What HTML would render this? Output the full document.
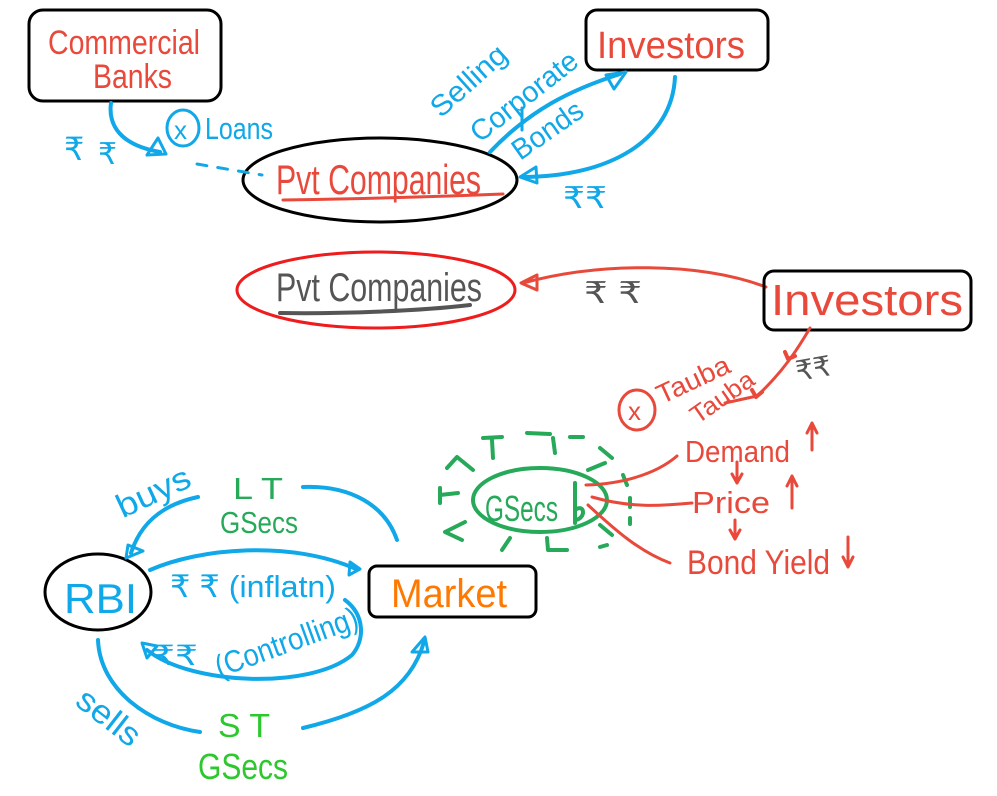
<!DOCTYPE html>
<html><head><meta charset="utf-8"><style>
html,body{margin:0;padding:0;background:#fff;}
svg{display:block;}
text{font-family:"Liberation Sans","DejaVu Sans",sans-serif;}
</style></head><body>
<svg width="997" height="796" viewBox="0 0 997 796" xmlns="http://www.w3.org/2000/svg">
<rect width="997" height="796" fill="#fff"/>
<g fill="none" stroke-linecap="round" stroke-linejoin="round">
<!-- Commercial Banks box -->
<rect x="29" y="10" width="192" height="91" rx="14" stroke="#000" stroke-width="3"/>
<!-- Investors top box -->
<rect x="586" y="10" width="182" height="60" rx="11" stroke="#000" stroke-width="3"/>
<!-- Pvt Companies ellipse -->
<ellipse cx="380" cy="180" rx="137" ry="42" stroke="#000" stroke-width="3"/>
<path d="M283,200 C350,199 430,197 503,194" stroke="#e8493b" stroke-width="3"/>
<!-- CB arrow -->
<path d="M111,103 C108,125 120,145 160,152" stroke="#10a8e8" stroke-width="4"/>
<polygon points="147,155 158,138 166,154" stroke="#10a8e8" stroke-width="3"/>
<ellipse cx="183" cy="128" rx="16" ry="18" stroke="#10a8e8" stroke-width="3"/>
<path d="M197,164 L262,175" stroke="#10a8e8" stroke-width="3" stroke-dasharray="10 11"/>
<!-- Selling arrow -->
<path d="M490,152 C530,110 570,90 620,74" stroke="#10a8e8" stroke-width="4"/>
<polygon points="606,75 626,72 614,89" stroke="#10a8e8" stroke-width="3"/>
<path d="M522,130 L522,108" stroke="#10a8e8" stroke-width="3"/>
<!-- return arrow -->
<path d="M675,77 C672,140 610,177 522,177" stroke="#10a8e8" stroke-width="4"/>
<polygon points="520,177 536,167 537,183" stroke="#10a8e8" stroke-width="3"/>

<!-- second section -->
<ellipse cx="376" cy="290" rx="139" ry="38" stroke="#ee1c1c" stroke-width="3"/>
<path d="M280,313 C340,314 420,311 470,305" stroke="#555" stroke-width="4"/>
<path d="M766,287 C700,262 600,262 523,283" stroke="#e8493b" stroke-width="3"/>
<path d="M537,275 L521,283 L537,290 M537,275 L537,290" stroke="#e8493b" stroke-width="3"/>
<rect x="764" y="271" width="207" height="59" rx="10" stroke="#000" stroke-width="3"/>
<!-- Tauba arrow -->
<path d="M810,328 C800,345 785,370 757,396 L725,403" stroke="#e8493b" stroke-width="3"/>
<path d="M785,352 L788,359 L795,356" stroke="#e8493b" stroke-width="4"/>
<path d="M752,390 L756,397 L762,392" stroke="#e8493b" stroke-width="4"/>
<ellipse cx="637" cy="410" rx="18" ry="20" stroke="#e8493b" stroke-width="3"/>

<!-- GSecs -->
<ellipse cx="540" cy="500" rx="67" ry="32" stroke="#27a95a" stroke-width="4"/>
<path d="M575,483 L575,523 M575,510 C585,503 586,518 576,520" stroke="#27a95a" stroke-width="4"/>
<g stroke="#27a95a" stroke-width="4">
<path d="M483,438 L502,437 M492,440 L493,458"/>
<path d="M527,433 L550,434"/>
<path d="M553,438 L555,453"/>
<path d="M570,437 L583,437"/>
<path d="M600,448 L612,458"/>
<path d="M588,470 L605,463"/>
<path d="M447,468 L457,457 L473,470"/>
<path d="M440,488 L440,503 M440,495 L458,493"/>
<path d="M465,522 L445,532 L462,540"/>
<path d="M510,538 L502,550"/>
<path d="M547,538 L548,550 L567,550"/>
<path d="M600,525 L612,535"/>
<path d="M600,547 L607,545"/>
<path d="M623,475 L627,485"/>
<path d="M630,498 L630,507"/>
<path d="M630,518 L630,524"/>
</g>
<g stroke="#e8493b" stroke-width="3">
<path d="M586,485 C620,484 655,475 677,456"/>
<path d="M592,497 C630,508 660,506 692,503"/>
<path d="M588,505 C615,530 640,552 670,563"/>
<path d="M812,450 L812,423 M807,433 L812,423 L817,433"/>
<path d="M792,508 L792,476 M787,486 L792,476 L797,486"/>
<path d="M848,537 L848,567 M843,557 L848,567 L853,557"/>
<path d="M737,462 L737,483 M732,474 L737,483 L742,474"/>
<path d="M735,520 L735,539 M730,530 L735,539 L740,530"/>
</g>

<!-- RBI section -->
<ellipse cx="98" cy="592" rx="53" ry="38" stroke="#000" stroke-width="3"/>
<rect x="369" y="566" width="167" height="51" rx="8" stroke="#000" stroke-width="3"/>
<g stroke="#10a8e8" stroke-width="4">
<path d="M303,487 C350,485 385,505 397,540"/>
<path d="M198,497 C160,505 140,525 131,553"/>
<path d="M150,570 C200,548 290,540 356,569"/>
<path d="M345,600 C365,615 365,640 352,655 C310,690 190,685 147,650"/>
<path d="M98,640 C100,690 150,725 200,732"/>
<path d="M303,728 C370,712 410,690 424,642"/>
</g>
<g stroke="#10a8e8" stroke-width="3">
<polygon points="126,558 128,545 143,551"/>
<polygon points="350,562 360,569 349,575"/>
<polygon points="142,643 147,658 157,646"/>
<polygon points="412,652 425,637 428,652"/>
</g>
</g>

<!-- Texts -->
<g fill="#e8493b">
<text x="48" y="54" font-size="34" textLength="152" lengthAdjust="spacingAndGlyphs">Commercial</text>
<text x="93" y="88" font-size="34" textLength="79" lengthAdjust="spacingAndGlyphs">Banks</text>
<text x="597" y="58" font-size="38" textLength="148" lengthAdjust="spacingAndGlyphs">Investors</text>
<text x="276" y="194" font-size="42" textLength="205" lengthAdjust="spacingAndGlyphs">Pvt Companies</text>
<text x="771" y="315" font-size="44" textLength="192" lengthAdjust="spacingAndGlyphs">Investors</text>
<text x="628" y="420" font-size="26">x</text>
<text transform="translate(697,388) rotate(-25)" text-anchor="middle" font-size="27" textLength="78" lengthAdjust="spacingAndGlyphs">Tauba</text>
<text transform="translate(727,404) rotate(-35)" text-anchor="middle" font-size="25" textLength="72" lengthAdjust="spacingAndGlyphs">Tauba</text>
<text x="685" y="462" font-size="31" textLength="105" lengthAdjust="spacingAndGlyphs">Demand</text>
<text x="692" y="513" font-size="31" textLength="78" lengthAdjust="spacingAndGlyphs">Price</text>
<text x="687" y="574" font-size="34" textLength="143" lengthAdjust="spacingAndGlyphs">Bond Yield</text>
</g>
<g fill="#10a8e8">
<text x="174" y="139" font-size="26">x</text>
<text x="205" y="139" font-size="31" textLength="68" lengthAdjust="spacingAndGlyphs">Loans</text>
<text x="64" y="160" font-size="32">₹</text>
<text x="98" y="164" font-size="30">₹</text>
<text transform="translate(475,88) rotate(-42)" text-anchor="middle" font-size="29" textLength="92" lengthAdjust="spacingAndGlyphs">Selling</text>
<text transform="translate(530,104) rotate(-38)" text-anchor="middle" font-size="29" textLength="128" lengthAdjust="spacingAndGlyphs">Corporate</text>
<text transform="translate(553,138) rotate(-35)" text-anchor="middle" font-size="29" textLength="80" lengthAdjust="spacingAndGlyphs">Bonds</text>
<text x="563" y="208" font-size="30" textLength="44" lengthAdjust="spacingAndGlyphs">₹₹</text>
<text x="64" y="613" font-size="42" textLength="73" lengthAdjust="spacingAndGlyphs">RBI</text>
<text transform="translate(158,502) rotate(-25)" text-anchor="middle" font-size="33" textLength="78" lengthAdjust="spacingAndGlyphs">buys</text>
<text x="170" y="597" font-size="31" textLength="166" lengthAdjust="spacingAndGlyphs">₹ ₹ (inflatn)</text>
<text x="152" y="665" font-size="28" textLength="46" lengthAdjust="spacingAndGlyphs">₹₹</text>
<text transform="translate(290,652) rotate(-20)" text-anchor="middle" font-size="31" textLength="150" lengthAdjust="spacingAndGlyphs">(Controlling)</text>
<text transform="translate(102,726) rotate(38)" text-anchor="middle" font-size="33" textLength="72" lengthAdjust="spacingAndGlyphs">sells</text>
</g>
<g fill="#555">
<text x="276" y="301" font-size="40" textLength="206" lengthAdjust="spacingAndGlyphs">Pvt Companies</text>
<text x="584" y="303" font-size="30" textLength="58" lengthAdjust="spacingAndGlyphs">₹ ₹</text>
<text transform="translate(815,378) rotate(-10)" text-anchor="middle" font-size="28">₹₹</text>
</g>
<g fill="#27a95a">
<text x="485" y="521" font-size="36" textLength="73" lengthAdjust="spacingAndGlyphs">GSecs</text>
<text x="233" y="499" font-size="31" textLength="50" lengthAdjust="spacingAndGlyphs">L T</text>
<text x="220" y="533" font-size="31" textLength="78" lengthAdjust="spacingAndGlyphs">GSecs</text>
</g>
<g fill="#2dc82d">
<text x="218" y="737" font-size="33" textLength="52" lengthAdjust="spacingAndGlyphs">S T</text>
<text x="198" y="779" font-size="36" textLength="90" lengthAdjust="spacingAndGlyphs">GSecs</text>
</g>
<text x="391" y="607" font-size="40" fill="#ff7800" textLength="116" lengthAdjust="spacingAndGlyphs">Market</text>
</svg>
</body></html>
